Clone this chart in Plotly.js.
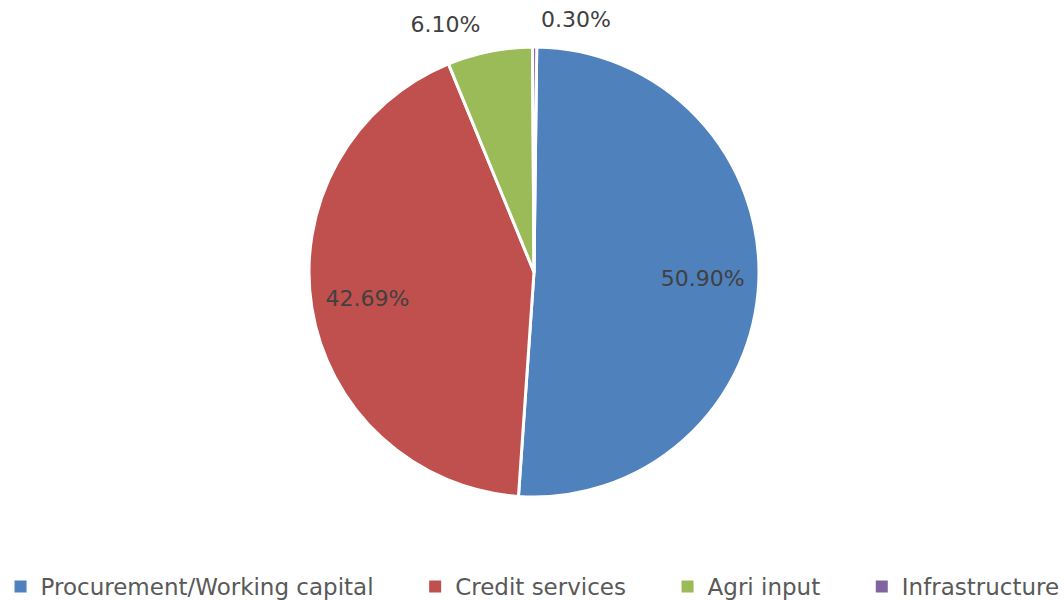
<!DOCTYPE html>
<html>
<head>
<meta charset="utf-8">
<script src="https://cdn.plot.ly/plotly-3.0.1.min.js"></script>
<style>html,body{margin:0;padding:0;background:#fff;}#chart{width:1064px;height:600px;}</style>
</head>
<body>
<div id="chart"></div>
<script>
const categories = ["Procurement/Working capital", "Credit services", "Agri input", "Infrastructure"];
const shares = [50.90, 42.69, 6.10, 0.30];
const sliceColors = ["#4F81BD", "#C0504D", "#9BBB59", "#8064A2"];
const insideLabelled = [true, true, false, false];

const shareText = shares.map(v => v.toFixed(2) + "%");
// legend spacing: pad all but last entry with no-break spaces
const legendLabels = categories.map((c, i) => i < categories.length - 1 ? c + "\u00a0".repeat(5) : c);
const labelFont = { family: "DejaVu Sans", size: 22, color: "#404040" };
const transparent = sliceColors.map(() => "rgba(0,0,0,0)");

// pie geometry in paper fractions (plot area = whole 1064x600 canvas)
const pieDomain = { x: [0.29041, 0.71335], y: [0.17167, 0.92167] };
const outerLabelDomain = { x: [0.27632, 0.72744], y: [0.14667, 0.94667] };

const common = {
  type: "pie",
  labels: legendLabels,
  values: shares,
  text: shareText,
  textinfo: "text",
  texttemplate: "%{text}",
  sort: false,
  direction: "clockwise",
  rotation: 0.7
};

// full pie: slices and legend
const pieTrace = Object.assign({}, common, {
  textposition: "none",
  domain: pieDomain,
  marker: { colors: sliceColors, line: { color: "#FFFFFF", width: 3 } },
  showlegend: true
});

// transparent ring carrying inside labels
const insideLabelTrace = Object.assign({}, common, {
  textposition: insideLabelled.map(f => f ? "inside" : "none"),
  insidetextorientation: "horizontal",
  hole: 0.5,
  domain: pieDomain,
  marker: { colors: transparent, line: { width: 0 } },
  textfont: labelFont,
  insidetextfont: labelFont,
  showlegend: false
});

// transparent larger pie carrying outside labels for the thin slices
const outsideLabelTrace = Object.assign({}, common, {
  textposition: insideLabelled.map(f => f ? "none" : "outside"),
  domain: outerLabelDomain,
  marker: { colors: transparent, line: { width: 0 } },
  textfont: labelFont,
  outsidetextfont: labelFont,
  showlegend: false
});

const layout = {
  width: 1064,
  height: 600,
  margin: { l: 0, r: 0, t: 0, b: 0, autoexpand: false },
  paper_bgcolor: "#FFFFFF",
  plot_bgcolor: "#FFFFFF",
  showlegend: true,
  legend: {
    orientation: "h",
    x: 0.5005, xanchor: "center",
    y: 0.0583, yanchor: "top",
    font: { family: "DejaVu Sans", size: 23, color: "#595959" },
    traceorder: "normal"
  },
  font: { family: "DejaVu Sans" }
};

Plotly.newPlot("chart", [pieTrace, insideLabelTrace, outsideLabelTrace], layout, { displayModeBar: false, staticPlot: true }).then(() => {
  document.querySelectorAll("#chart .legendpoints path").forEach(p => { p.style.strokeWidth = "0"; });
  document.querySelectorAll("#chart path.textline").forEach(p => { p.style.stroke = "#A6A6A6"; p.style.strokeWidth = "1.5px"; });
});
</script>
</body>
</html>
